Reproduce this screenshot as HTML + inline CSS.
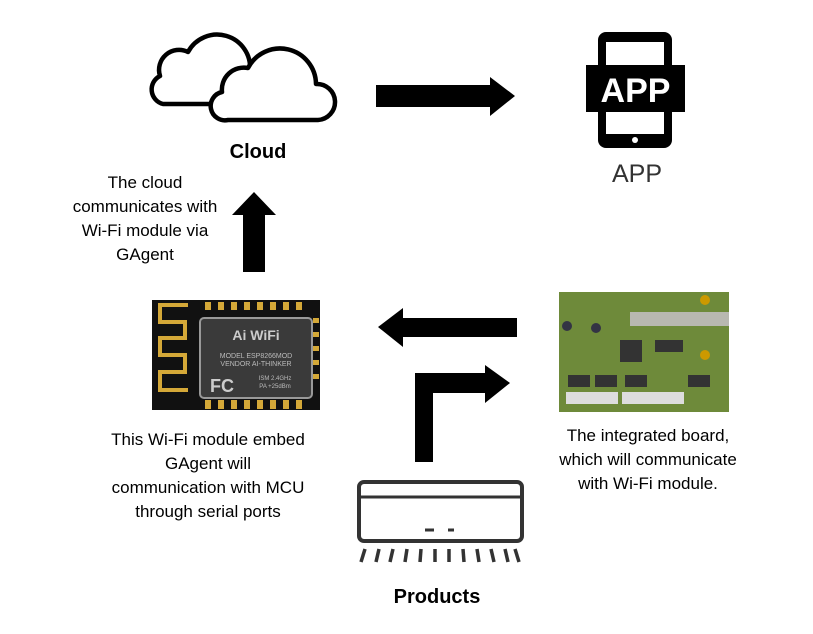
<!DOCTYPE html>
<html><head><meta charset="utf-8"><style>
body{margin:0;width:813px;height:634px;background:#fff;overflow:hidden;position:relative;font-family:"Liberation Sans",Arial,sans-serif}
.t{position:absolute;text-align:center;font-size:17px;line-height:24px;color:#000}
</style></head><body>
<svg width="813" height="634" style="position:absolute;left:0;top:0">
<!-- clouds -->
<path d="M250 70 A33 33 0 0 0 188 52 A20 20 0 0 0 160 76 A15 15 0 0 0 163 104 H215" fill="#fff" stroke="#000" stroke-width="4.5" stroke-linejoin="round"/>
<path d="M228 120 H318 A18 18 0 0 0 316 84 A36 36 0 0 0 248 68 A22 22 0 0 0 222 92 A14 14 0 0 0 228 120 Z" fill="#fff" stroke="#000" stroke-width="4.5" stroke-linejoin="round"/>
<!-- right arrow top -->
<polygon points="376,85 490,85 490,77 515,96 490,116 490,107 376,107" fill="#000"/>
<!-- phone -->
<rect x="598" y="32" width="74" height="116" rx="8" fill="#000"/>
<rect x="606" y="42" width="58" height="23" fill="#fff"/>
<rect x="606" y="112" width="58" height="22" fill="#fff"/>
<circle cx="635" cy="140" r="3" fill="#fff"/>
<rect x="586" y="65" width="99" height="47" fill="#000"/>
<text x="635.5" y="102" font-family="Liberation Sans" font-weight="bold" font-size="34" fill="#fff" text-anchor="middle">APP</text>
<!-- up arrow -->
<polygon points="243,272 243,215 232,215 254,192 276,215 265,215 265,272" fill="#000"/>
<!-- left arrow -->
<polygon points="517,318 403,318 403,308 378,327 403,347 403,337 517,337" fill="#000"/>
<!-- elbow arrow -->
<polygon points="415,462 415,373 485,373 485,365 510,383 485,403 485,393 433,393 433,462" fill="#000"/>
<!-- wifi module -->
<rect x="152" y="300" width="168" height="110" fill="#111"/>
<path d="M188 305 H160 V322 H185 V338 H160 V355 H185 V372 H160 V390 H188" fill="none" stroke="#d4a838" stroke-width="4"/>
<g fill="#d4a838">
<rect x="205" y="302" width="6" height="8"/><rect x="218" y="302" width="6" height="8"/><rect x="231" y="302" width="6" height="8"/><rect x="244" y="302" width="6" height="8"/><rect x="257" y="302" width="6" height="8"/><rect x="270" y="302" width="6" height="8"/><rect x="283" y="302" width="6" height="8"/><rect x="296" y="302" width="6" height="8"/>
<rect x="205" y="400" width="6" height="9"/><rect x="218" y="400" width="6" height="9"/><rect x="231" y="400" width="6" height="9"/><rect x="244" y="400" width="6" height="9"/><rect x="257" y="400" width="6" height="9"/><rect x="270" y="400" width="6" height="9"/><rect x="283" y="400" width="6" height="9"/><rect x="296" y="400" width="6" height="9"/>
<rect x="313" y="318" width="6" height="5"/><rect x="313" y="332" width="6" height="5"/><rect x="313" y="346" width="6" height="5"/><rect x="313" y="360" width="6" height="5"/><rect x="313" y="374" width="6" height="5"/>
</g>
<rect x="200" y="318" width="112" height="80" rx="4" fill="#3a3a3a" stroke="#999" stroke-width="2"/>
<text x="256" y="340" font-size="14" fill="#ccc" text-anchor="middle" font-weight="bold">Ai WiFi</text>
<text x="256" y="358" font-size="7" fill="#bbb" text-anchor="middle">MODEL ESP8266MOD</text>
<text x="256" y="366" font-size="7" fill="#bbb" text-anchor="middle">VENDOR AI-THINKER</text>
<text x="222" y="392" font-size="18" fill="#ccc" text-anchor="middle" font-weight="bold">FC</text>
<text x="275" y="380" font-size="6" fill="#bbb" text-anchor="middle">ISM 2.4GHz</text>
<text x="275" y="388" font-size="6" fill="#bbb" text-anchor="middle">PA +25dBm</text>
<!-- board -->
<rect x="559" y="292" width="170" height="120" fill="#6e8a3a"/>
<rect x="630" y="312" width="99" height="14" fill="#b8b8b0"/>
<rect x="620" y="340" width="22" height="22" fill="#333"/>
<rect x="655" y="340" width="28" height="12" fill="#333"/>
<rect x="568" y="375" width="22" height="12" fill="#333"/><rect x="595" y="375" width="22" height="12" fill="#333"/><rect x="625" y="375" width="22" height="12" fill="#333"/><rect x="688" y="375" width="22" height="12" fill="#333"/>
<rect x="566" y="392" width="52" height="12" fill="#ddd"/><rect x="622" y="392" width="62" height="12" fill="#ddd"/>
<circle cx="567" cy="326" r="5" fill="#334"/><circle cx="596" cy="328" r="5" fill="#334"/><circle cx="705" cy="300" r="5" fill="#c90"/><circle cx="705" cy="355" r="5" fill="#c90"/>
<!-- product -->
<rect x="359" y="482" width="163" height="59" rx="5" fill="none" stroke="#333" stroke-width="4"/>
<line x1="359" y1="497" x2="522" y2="497" stroke="#333" stroke-width="3"/>
<line x1="425" y1="530" x2="434" y2="530" stroke="#333" stroke-width="3"/>
<line x1="448" y1="530" x2="454" y2="530" stroke="#333" stroke-width="3"/>
<g stroke="#333" stroke-width="3.5">
<line x1="365" y1="549" x2="361" y2="562"/><line x1="379" y1="549" x2="376" y2="562"/><line x1="393" y1="549" x2="390" y2="562"/><line x1="407" y1="549" x2="405" y2="562"/><line x1="421" y1="549" x2="420" y2="562"/><line x1="435" y1="549" x2="435" y2="562"/><line x1="449" y1="549" x2="449" y2="562"/><line x1="463" y1="549" x2="464" y2="562"/><line x1="477" y1="549" x2="479" y2="562"/><line x1="491" y1="549" x2="494" y2="562"/><line x1="505" y1="549" x2="508" y2="562"/><line x1="515" y1="549" x2="519" y2="562"/>
</g>
</svg>
<div class="t" style="left:198px;top:140px;width:120px;font-weight:bold;font-size:20px">Cloud</div>
<div class="t" style="left:577px;top:162px;width:120px;font-size:25px;color:#333">APP</div>
<div class="t" style="left:40px;top:171px;width:210px">The cloud<br>communicates with<br>Wi-Fi module via<br>GAgent</div>
<div class="t" style="left:78px;top:428px;width:260px">This Wi-Fi module embed<br>GAgent will<br>communication with MCU<br>through serial ports</div>
<div class="t" style="left:528px;top:424px;width:240px">The integrated board,<br>which will communicate<br>with Wi-Fi module.</div>
<div class="t" style="left:357px;top:585px;width:160px;font-weight:bold;font-size:20px">Products</div>
</body></html>
